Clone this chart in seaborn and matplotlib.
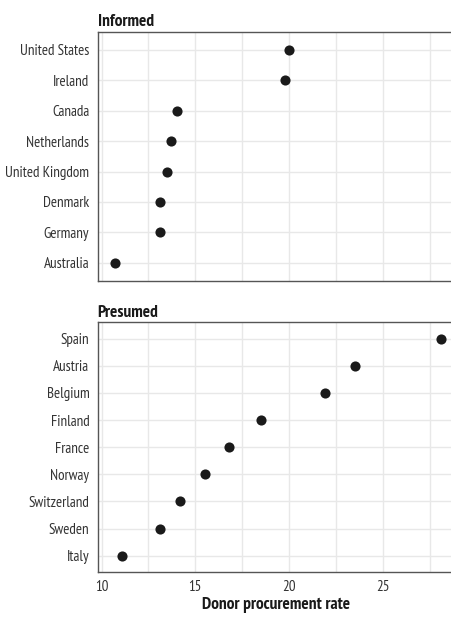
import matplotlib
matplotlib.use("Agg")
import matplotlib.pyplot as plt
import pandas as pd
import seaborn as sns
from matplotlib.ticker import MultipleLocator

# --- data ---
informed_countries = ["United States", "Ireland", "Canada", "Netherlands",
                      "United Kingdom", "Denmark", "Germany", "Australia"]
informed_rates = [20.0, 19.8, 14.0, 13.7, 13.5, 13.1, 13.1, 10.7]

presumed_countries = ["Spain", "Austria", "Belgium", "Finland", "France",
                      "Norway", "Switzerland", "Sweden", "Italy"]
presumed_rates = [28.1, 23.5, 21.9, 18.5, 16.8, 15.5, 14.2, 13.1, 11.1]

x_ticks = [10, 15, 20, 25]

sns.set_theme(style="white")
plt.rcParams["font.family"] = ["PT Sans Narrow", "DejaVu Sans"]

panels = [
    ("Informed", pd.DataFrame({"country": informed_countries, "rate": informed_rates})),
    ("Presumed", pd.DataFrame({"country": presumed_countries, "rate": presumed_rates})),
]

fig = plt.figure(figsize=(4.51, 6.19), dpi=100)
boxes = [[0.2165, 0.546, 0.79, 0.403], [0.2165, 0.076, 0.79, 0.403]]

for (title, df), box in zip(panels, boxes):
    ax = fig.add_axes(box)
    ax.set_axisbelow(True)
    sns.stripplot(data=df, x="rate", y="country", order=list(df["country"]),
                  jitter=False, color="#1a1a1a", size=7.3, linewidth=0,
                  ax=ax, zorder=3)
    n = len(df)
    ax.set_ylim(n - 1 + 0.6, -0.6)
    ax.set_xlim(9.79, 28.8)
    ax.xaxis.set_major_locator(MultipleLocator(5))
    ax.xaxis.set_minor_locator(MultipleLocator(2.5))
    ax.set_xticks(x_ticks)
    ax.grid(True, axis="y", color="#e8e8e8", linewidth=1.0)
    ax.grid(True, axis="x", which="both", color="#e8e8e8", linewidth=1.0)
    ax.tick_params(axis="both", which="major", length=3, width=0.8,
                   color="#333333", labelcolor="#333333", labelsize=10.8, pad=3)
    ax.tick_params(axis="x", which="minor", length=0)
    for side in ["left", "top", "bottom"]:
        ax.spines[side].set_color("#555555")
        ax.spines[side].set_linewidth(1.0)
    ax.spines["right"].set_visible(False)
    ax.set_ylabel("")
    ax.set_title(title, loc="left", fontsize=12.5, fontweight="bold",
                 color="#1a1a1a", pad=4)
    if title == "Informed":
        ax.set_xlabel("")
        ax.tick_params(axis="x", labelbottom=False)
    else:
        ax.set_xlabel("Donor procurement rate", fontsize=12.5,
                      fontweight="bold", color="#1a1a1a", labelpad=2)

fig.savefig("out.png", dpi=100)
